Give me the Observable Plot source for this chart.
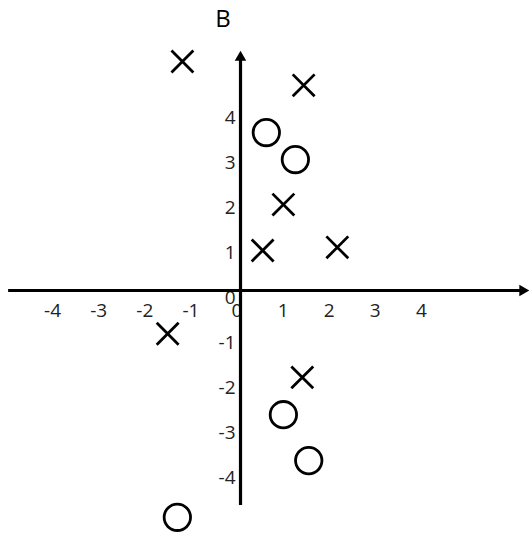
<!DOCTYPE html>
<html>
<head>
<meta charset="utf-8">
<script src="https://cdn.jsdelivr.net/npm/d3@7"></script>
<script src="https://cdn.jsdelivr.net/npm/@observablehq/plot@0.6"></script>
<style>
  html, body { margin: 0; padding: 0; background: #fff; }
  #wrap { position: relative; width: 531px; height: 535px; overflow: hidden; }
  #title { position: absolute; left: 0; top: 0; width: 446px; height: 35px; line-height: 35px;
           text-align: center; font-family: "Open Sans", sans-serif; font-size: 24px; color: #000; }
  #chart { position: absolute; left: 0; top: 35px; }
</style>
</head>
<body>
<div id="wrap">
  <div id="title">B</div>
  <div id="chart"></div>
</div>
<script>
const titleText = "B";
const crossX = [-1.26, 1.37, 0.93, 0.48, 2.10, -1.58, 1.34];
const crossY = [5.09, 4.56, 1.91, 0.89, 0.96, -0.96, -1.93];
const circleX = [0.56, 1.19, 0.93, 1.48, -1.37];
const circleY = [3.51, 2.91, -2.76, -3.78, -5.04];
const xTicks = [-4, -3, -2, -1, 0, 1, 2, 3, 4];
const yTicks = [4, 3, 2, 1, 0, -1, -2, -3, -4];
const xAxisExtent = [-5.03, 6.12];
const yAxisExtent = [-4.78, 5.18];

document.getElementById("title").textContent = titleText;

const crosses = crossX.map((x, i) => ({x, y: crossY[i]}));
const circles = circleX.map((x, i) => ({x, y: circleY[i]}));
const font = "Open Sans, sans-serif";

const chart = Plot.plot({
  width: 531,
  height: 500,
  margin: 0,
  x: {domain: [-5.206, 6.312], axis: null},
  y: {domain: [-5.444, 5.667], axis: null},
  style: {background: "transparent"},
  marks: [
    Plot.text(xTicks, {x: d => d, y: 0, text: d => String(d), dy: 20, dx: -3.5,
      fontSize: 19, fontFamily: font, fill: "#222"}),
    Plot.text(yTicks, {x: 0, y: d => d, text: d => String(d), dy: 7, dx: -5, textAnchor: "end",
      fontSize: 19, fontFamily: font, fill: "#222"}),
    Plot.ruleY([0], {x1: xAxisExtent[0], x2: xAxisExtent[1], stroke: "#000", strokeWidth: 3.2}),
    Plot.ruleX([0], {y1: yAxisExtent[0], y2: yAxisExtent[1], stroke: "#000", strokeWidth: 3.2}),
    Plot.dot([{x: 0, y: yAxisExtent[1]}], {x: "x", y: "y", symbol: "triangle2", r: 5.5, fill: "#000", stroke: "none"}),
    Plot.dot([{x: xAxisExtent[1], y: 0}], {x: "x", y: "y", symbol: "triangle2", r: 5.5, fill: "#000", stroke: "none", rotate: 90}),
    Plot.dot(crosses, {x: "x", y: "y", symbol: "times", r: 10, stroke: "#000", strokeWidth: 2.8}),
    Plot.dot(circles, {x: "x", y: "y", symbol: "circle", r: 13.2, stroke: "#000", strokeWidth: 2.8, fill: "none"})
  ]
});
document.getElementById("chart").appendChild(chart);
</script>
</body>
</html>
